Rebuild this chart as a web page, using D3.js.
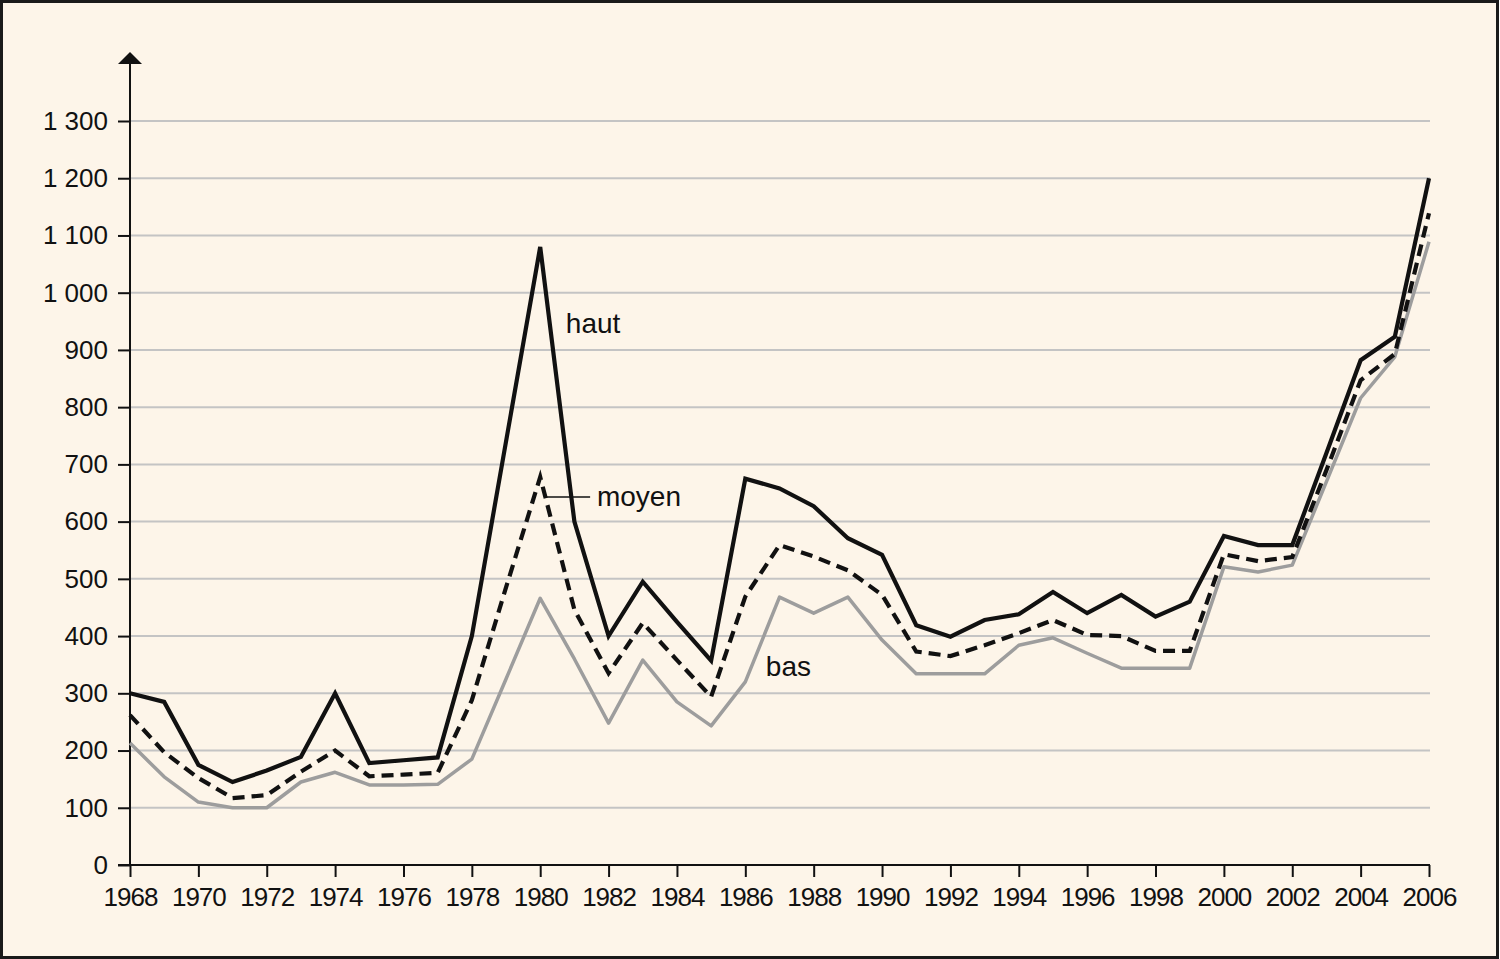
<!DOCTYPE html>
<html>
<head>
<meta charset="utf-8">
<script src="https://cdn.jsdelivr.net/npm/d3@7"></script>
<style>
  html, body { margin: 0; padding: 0; background: #ffffff; }
  svg { display: block; }
  text { font-family: "Liberation Sans", Arial, Helvetica, sans-serif; fill: #111; }
</style>
</head>
<body>
<svg id="chart" width="1500" height="959"></svg>
<script>
// ---- data ----
const years = d3.range(1968, 2007);
const haut  = [300,285,175,145,165,189,300,178,183,188,400,740,1080,600,400,495,425,357,675,658,627,571,542,419,399,428,438,477,440,472,434,460,575,559,559,720,882,923,1200];
const moyen = [262,197,152,117,122,163,200,155,158,161,288,485,678,446,335,423,358,294,469,559,539,515,472,373,365,384,405,428,402,400,374,374,543,531,538,690,847,893,1139];
const bas   = [213,154,110,100,100,145,162,140,140,141,185,325,466,360,248,358,285,243,320,468,440,468,393,334,334,334,384,397,370,344,344,344,521,512,524,670,816,888,1089];
const yTicks = [0,100,200,300,400,500,600,700,800,900,1000,1100,1200,1300];
const xTicks = d3.range(1968, 2007, 2);
const seriesLabels = [
  {name: "haut", year: 1980.75, value: 930},
  {name: "moyen", year: 1981.66, value: 627},
  {name: "bas", year: 1986.6, value: 330}
];

// ---- layout ----
const svg = d3.select("#chart");
const W = 1500, H = 959;
const x = d3.scaleLinear().domain([1968, 2006]).range([130, 1429]);
const y = d3.scaleLinear().domain([0, 1300]).range([865, 121]);

svg.append("rect").attr("x", 1.5).attr("y", 1.5).attr("width", W - 4).attr("height", H - 3)
  .attr("fill", "#fdf5e9").attr("stroke", "#1a1a1a").attr("stroke-width", 3);

// grid
svg.append("g").selectAll("line").data(yTicks.filter(d => d > 0)).join("line")
  .attr("x1", x(1968)).attr("x2", x(2006) + 1)
  .attr("y1", d => y(d)).attr("y2", d => y(d))
  .attr("stroke", "#c4c4c4").attr("stroke-width", 2);

// y axis
const yAxis = d3.axisLeft(y).tickValues(yTicks).tickSize(12).tickPadding(10)
  .tickFormat(d => d3.format(",")(d).replace(/,/g, " "));
const gy = svg.append("g").attr("transform", `translate(${x(1968)},0)`).call(yAxis);
gy.select(".domain").remove();
gy.selectAll(".tick line").attr("stroke", "#111").attr("stroke-width", 2);
gy.selectAll(".tick text").attr("font-size", 26).attr("fill", "#111");
svg.append("line").attr("x1", x(1968)).attr("x2", x(1968)).attr("y1", y(0)).attr("y2", 62)
  .attr("stroke", "#111").attr("stroke-width", 2);
svg.append("path").attr("d", `M${x(1968)},52 L${x(1968) - 12},64 L${x(1968) + 12},64 Z`).attr("fill", "#111");

// x axis
const xAxis = d3.axisBottom(x).tickValues(xTicks).tickSize(12).tickPadding(11).tickFormat(d3.format("d"));
const gx = svg.append("g").attr("transform", `translate(0,${y(0)})`).call(xAxis);
gx.select(".domain").remove();
gx.selectAll(".tick line").attr("stroke", "#111").attr("stroke-width", 2);
gx.selectAll(".tick text").attr("font-size", 26).attr("letter-spacing", -1).attr("fill", "#111");
svg.append("line").attr("x1", x(1968) - 12).attr("x2", x(2006) + 1).attr("y1", y(0)).attr("y2", y(0))
  .attr("stroke", "#111").attr("stroke-width", 2);

// lines
const line = d3.line().x((d, i) => x(years[i])).y(d => y(d)).curve(d3.curveLinear);
svg.append("path").datum(bas).attr("d", line).attr("fill", "none")
  .attr("stroke", "#9d9d9d").attr("stroke-width", 3.5).attr("stroke-linejoin", "round");
svg.append("path").datum(haut).attr("d", line).attr("fill", "none")
  .attr("stroke", "#111").attr("stroke-width", 4.2).attr("stroke-linejoin", "miter");
svg.append("path").datum(moyen).attr("d", line).attr("fill", "none")
  .attr("stroke", "#111").attr("stroke-width", 4.2).attr("stroke-dasharray", "12,7");

// labels
svg.append("g").selectAll("text").data(seriesLabels).join("text")
  .attr("x", d => x(d.year)).attr("y", d => y(d.value))
  .attr("font-size", 28).text(d => d.name);
// leader for moyen
svg.append("line").attr("x1", x(1980.15)).attr("x2", x(1981.46)).attr("y1", 497).attr("y2", 497)
  .attr("stroke", "#111").attr("stroke-width", 1.5);
</script>
</body>
</html>
